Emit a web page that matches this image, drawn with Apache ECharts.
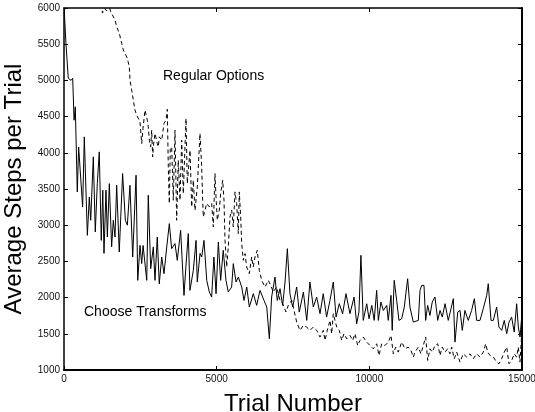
<!DOCTYPE html>
<html>
<head>
<meta charset="utf-8">
<script src="https://cdn.jsdelivr.net/npm/echarts@6/dist/echarts.min.js"></script>
<style>html,body{margin:0;padding:0;background:#fff}#c{width:535px;height:412px}</style>
</head>
<body>
<div id="c"></div>
<script>
// ---- Data ----
const xTicks = [0, 5000, 10000, 15000];
const yTicks = [1000, 1500, 2000, 2500, 3000, 3500, 4000, 4500, 5000, 5500, 6000];

// "Choose Transforms" (solid)
const chooseTrials = [10,65,140,230,285,330,370,435,480,610,665,765,830,875,960,1025,1090,1155,1220,1270,1310,1375,1420,1485,1560,1615,1670,1725,1810,1920,2010,2075,2160,2250,2360,2415,2490,2545,2590,2655,2710,2760,2840,2925,2980,3055,3120,3200,3275,3365,3450,3525,3635,3710,3820,3930,3995,4070,4125,4235,4325,4365,4455,4510,4585,4675,4760,4835,4910,4980,5055,5130,5215,5305,5380,5490,5545,5635,5710,5820,5895,5985,6070,6200,6310,6420,6550,6640,6725,6800,6910,6985,7075,7160,7240,7315,7400,7490,7620,7705,7840,7950,8055,8165,8275,8385,8490,8600,8710,8820,8910,9015,9125,9235,9365,9500,9585,9660,9725,9800,9915,9990,10080,10160,10240,10295,10380,10460,10570,10620,10710,10750,10815,10895,10970,11060,11145,11255,11330,11440,11605,11660,11715,11790,11845,11910,11985,12060,12150,12240,12315,12390,12480,12585,12675,12750,12805,12895,12970,13045,13130,13240,13350,13440,13515,13625,13730,13845,13895,13985,14060,14170,14245,14335,14420,14500,14575,14660,14745,14825,14880,14935,14990];
const chooseSteps = [5950,5500,5030,5000,5030,4450,4635,3460,4080,3250,4220,2860,3390,3068,3944,2907,3575,4013,2790,3483,2610,3483,2837,3575,2700,3068,2837,3552,2630,3713,3068,3000,3552,2560,3690,2238,2722,2470,2720,2722,2238,3414,2400,2700,2238,2837,2190,2560,2330,2700,3022,2676,2746,2515,2930,2030,2446,2884,2100,2377,2790,2215,2610,2560,2790,2238,2077,2007,2560,2054,2767,2238,2653,2238,2077,2146,2469,2215,2284,2146,1961,2146,1870,2054,1893,2100,1961,1870,1432,2007,2284,1961,2123,1893,2215,2676,2054,1870,2146,1800,2077,1685,2215,1870,2007,1778,2054,1731,1961,2215,1731,1916,1778,2054,1778,2007,1639,1800,2584,1685,1915,1708,1892,1685,2100,1685,1938,1823,1892,1685,2031,1547,2238,1962,1685,1708,1869,2261,1869,1662,1685,2100,2169,2169,1685,1892,1754,1938,2008,1685,1823,1731,1916,1685,1846,1985,1385,1800,1823,1547,1823,1685,1823,1985,1685,1685,1846,2031,2192,1685,1685,1869,1593,1547,1685,1501,1662,1731,1524,1915,1593,1455,1731];

// "Regular Options" (dashed)
const regularTrials = [0,700,1150,1260,1340,1400,1450,1530,1670,1726,1811,1890,1942,1998,2073,2138,2161,2217,2270,2325,2381,2489,2545,2587,2653,2728,2761,2794,2839,2872,2905,2925,2980,3056,3088,3121,3200,3275,3341,3383,3416,3449,3481,3527,3580,3635,3690,3743,3799,3855,3907,3996,4038,4127,4182,4235,4290,4366,4454,4510,4542,4562,4618,4673,4759,4837,4890,4945,4978,5021,5086,5132,5197,5240,5273,5328,5381,5437,5492,5545,5600,5656,5708,5741,5787,5820,5872,5928,5983,6069,6147,6200,6255,6331,6396,6475,6583,6691,6769,6855,6966,7074,7162,7270,7346,7457,7621,7729,7837,7948,8057,8165,8276,8384,8492,8548,8623,8712,8767,8820,8931,9016,9095,9170,9258,9367,9455,9530,9619,9694,9802,9913,10022,10130,10241,10316,10405,10513,10621,10709,10785,10863,10948,11060,11168,11276,11364,11440,11495,11603,11692,11767,11846,11911,11987,12062,12150,12239,12314,12389,12478,12566,12641,12697,12782,12861,12969,13077,13188,13297,13405,13516,13624,13732,13811,13876,13952,14060,14171,14246,14334,14420,14499,14574,14662,14747,14825,14878,14934,14990];
const regularSteps = [9500,7200,6250,5930,5990,5960,6050,5950,5834,5741,5650,5512,5420,5373,5305,5188,5004,4866,4728,4590,4520,4427,4128,4336,4590,4451,4359,4174,4082,4313,3944,4082,4267,4128,4082,4220,4174,4405,4451,4600,3806,3300,4050,4082,3345,4313,3068,3898,3345,4174,3437,4474,3575,4036,3252,3621,3206,3529,4267,3806,3345,3114,3207,3299,3253,3299,2976,3714,3391,3068,3207,3437,3622,3345,2792,2423,2700,3114,3207,2976,3460,3299,2884,3460,3114,2746,2515,2607,2423,2331,2561,2423,2561,2654,2377,2239,2146,2239,2170,2077,2146,1962,1916,1801,1893,1962,1662,1547,1616,1593,1547,1593,1547,1455,1547,1409,1547,1685,1501,1778,1593,1547,1409,1501,1432,1478,1409,1501,1339,1408,1455,1385,1339,1293,1362,1201,1362,1339,1385,1478,1224,1316,1247,1385,1293,1316,1270,1178,1247,1316,1224,1339,1455,1132,1293,1247,1339,1362,1201,1316,1247,1293,1224,1316,1155,1247,1109,1224,1178,1224,1155,1224,1178,1247,1362,1247,1201,1178,1109,1086,1155,1247,1316,1086,1132,1224,1178,1316,1109,1501];

const labelRegular = 'Regular Options';
const labelChoose = 'Choose Transforms';

// ---- Chart ----
const FONT = '"Liberation Sans", Arial, Helvetica, sans-serif';
const zip = (a, b) => a.map((v, i) => [v, b[i]]);
const plain = v => String(v);
const chart = echarts.init(document.getElementById('c'), null, {renderer: 'canvas'});

const baseAxis = {
  axisLine: {show: true, onZero: false, lineStyle: {color: '#000', width: 1.5}},
  axisTick: {show: true, inside: true, length: 4, lineStyle: {color: '#000', width: 1}},
  splitLine: {show: false},
  axisLabel: {color: '#111', fontFamily: FONT, fontSize: 10, formatter: plain}
};

chart.setOption({
  animation: false,
  backgroundColor: '#fff',
  grid: {left: 64, top: 8, right: 13, bottom: 42, containLabel: false, outerBoundsMode: 'none'},
  xAxis: [
    Object.assign({}, baseAxis, {
      type: 'value', min: xTicks[0], max: xTicks[xTicks.length - 1], interval: 5000,
      position: 'bottom',
      axisLine: {show: true, onZero: false, lineStyle: {color: '#000', width: 2}},
      axisLabel: {color: '#111', fontFamily: FONT, fontSize: 10, margin: 4, formatter: plain, showMinLabel: true, showMaxLabel: true, hideOverlap: false},
      name: 'Trial Number', nameLocation: 'middle', nameGap: 22,
      nameTextStyle: {fontFamily: FONT, fontSize: 24, color: '#000'}
    }),
    Object.assign({}, baseAxis, {
      type: 'value', min: xTicks[0], max: xTicks[xTicks.length - 1], interval: 5000,
      position: 'top', axisLabel: {show: false}
    })
  ],
  yAxis: [
    Object.assign({}, baseAxis, {
      type: 'value', min: yTicks[0], max: yTicks[yTicks.length - 1], interval: 500,
      position: 'left',
      axisLabel: {color: '#111', fontFamily: FONT, fontSize: 10, margin: 4, formatter: plain, hideOverlap: false},
      name: 'Average Steps per Trial', nameLocation: 'middle', nameGap: 34,
      nameTextStyle: {fontFamily: FONT, fontSize: 24, color: '#000'}
    }),
    Object.assign({}, baseAxis, {
      type: 'value', min: yTicks[0], max: yTicks[yTicks.length - 1], interval: 500,
      position: 'right', axisLabel: {show: false},
      axisLine: {show: true, onZero: false, lineStyle: {color: '#000', width: 2}}
    })
  ],
  series: [
    {
      name: labelRegular, type: 'line', xAxisIndex: 0, yAxisIndex: 0,
      data: zip(regularTrials, regularSteps), showSymbol: false, symbol: 'none',
      clip: true,
      lineStyle: {color: '#000', width: 1, type: [4, 3]}
    },
    {
      name: labelChoose, type: 'line', xAxisIndex: 0, yAxisIndex: 0,
      data: zip(chooseTrials, chooseSteps), showSymbol: false, symbol: 'none',
      clip: true,
      lineStyle: {color: '#000', width: 1}
    }
  ],
  graphic: [
    {type: 'text', left: 163, top: 69, style: {text: labelRegular, fill: '#000', font: '14px ' + FONT}},
    {type: 'text', left: 84, top: 305, style: {text: labelChoose, fill: '#000', font: '14px ' + FONT}}
  ]
});
</script>
</body>
</html>
